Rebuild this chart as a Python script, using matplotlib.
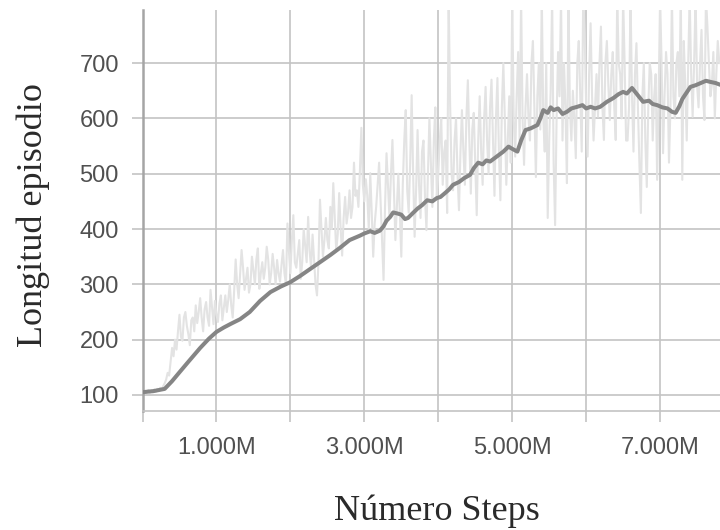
import matplotlib
matplotlib.use("Agg")
import matplotlib.pyplot as plt

# ---- data (x in millions of steps) ----
smooth_x = [0.00, 0.15, 0.30, 0.40, 0.50, 0.62, 0.78, 0.90, 1.00, 1.10, 1.20, 1.32,
            1.45, 1.59, 1.73, 1.87, 2.00, 2.13, 2.27, 2.40, 2.54, 2.67, 2.80,
            2.94, 3.00, 3.08, 3.14, 3.21, 3.26, 3.30, 3.35, 3.39, 3.45, 3.50, 3.55,
            3.59, 3.65, 3.72, 3.78, 3.85, 3.92, 3.98, 4.03, 4.10, 4.15, 4.20, 4.28,
            4.35, 4.43, 4.48, 4.54, 4.60, 4.65, 4.70, 4.78, 4.88, 4.95, 5.00, 5.07,
            5.12, 5.18, 5.25, 5.34, 5.38, 5.42, 5.48, 5.52, 5.56, 5.62, 5.68, 5.74,
            5.80, 5.88, 5.95, 6.00, 6.06, 6.12, 6.19, 6.28, 6.37, 6.44, 6.50, 6.55,
            6.62, 6.68, 6.77, 6.85, 6.90, 6.96, 7.03, 7.10, 7.16, 7.21, 7.26, 7.30,
            7.35, 7.41, 7.48, 7.55, 7.62, 7.68, 7.75, 7.81]
smooth_y = [105, 107, 111, 125, 141, 160, 185, 202, 214, 222, 229, 237,
            250, 270, 286, 296, 304, 315, 328, 340, 353, 366, 380,
            388, 392, 396, 393, 397, 405, 415, 422, 430, 428, 426, 418,
            420, 428, 437, 443, 452, 450, 456, 458, 466, 472, 480, 485,
            492, 498, 510, 520, 517, 524, 522, 530, 540, 549, 545, 540,
            560, 579, 582, 588, 600, 615, 610, 620, 615, 618, 608, 612,
            618, 621, 624, 618, 621, 618, 621, 630, 637, 644, 648, 645,
            655, 645, 630, 632, 626, 624, 620, 618, 612, 610, 622, 635,
            645, 657, 660, 664, 668, 666, 664, 661]

raw_step = 0.02
raw_y = [104, 107, 103, 106, 109, 104, 108, 105, 110, 106, 111, 108, 113, 110, 116, 121,
         128, 140, 135, 160, 185, 170, 200, 182, 215, 245, 205, 198, 240, 250, 225,
         210, 190, 235, 240, 215, 262, 230, 250, 275, 240, 215, 255, 268, 240, 225, 290, 260, 228, 270,
         245, 232, 265, 280, 235, 258, 280, 250, 272, 300, 262, 240, 290, 345, 300, 275, 320, 362, 330, 290,
         310, 330, 285, 300, 350, 325, 300, 345, 365, 292, 320, 340, 310, 330, 368, 345, 300, 320, 355, 330,
         300, 344, 320, 305, 335, 362, 320, 300, 410, 360, 320, 380, 425, 340, 330, 355, 380, 310, 340, 400,
         370, 340, 422, 360, 330, 390, 345, 300, 280, 340, 453, 400, 350, 380, 420, 380, 365, 440, 400, 483,
         420, 360, 390, 465, 400, 352, 420, 458, 410, 430, 470, 420, 440, 520, 460, 470, 440, 505, 583, 480,
         450, 490, 460, 400, 501, 430, 350, 410, 440, 480, 520, 450, 380, 308, 440, 537, 480, 420, 500, 561,
         470, 380, 440, 500, 430, 350, 480, 560, 615, 470, 430, 520, 642, 500, 386, 470, 579, 480, 420, 540,
         560, 460, 398, 500, 600, 520, 440, 560, 620, 460, 500, 560, 600, 480, 540, 560, 429, 820, 627, 500,
         470, 560, 600, 500, 434, 540, 615, 540, 480, 600, 669, 560, 464, 580, 610, 520, 425, 560, 640, 540,
         480, 600, 657, 560, 500, 620, 670, 560, 460, 600, 673, 540, 452, 620, 700, 600, 480, 560, 640, 520,
         820, 600, 531, 640, 720, 560, 820, 600, 516, 620, 680, 600, 560, 700, 740, 620, 494, 640, 700, 580,
         820, 600, 540, 700, 420, 560, 650, 820, 520, 407, 600, 720, 640, 820, 560, 700, 620, 483, 820, 620,
         560, 650, 600, 528, 700, 740, 640, 540, 820, 754, 620, 531, 680, 772, 640, 560, 620, 680, 603, 700,
         766, 620, 561, 700, 740, 660, 597, 680, 720, 620, 561, 820, 700, 680, 600, 820, 700, 560, 560, 620,
         820, 640, 540, 680, 736, 620, 519, 429, 640, 700, 560, 476, 620, 700, 680, 560, 640, 680, 489, 640,
         820, 700, 537, 640, 720, 680, 520, 620, 820, 640, 600, 700, 720, 640, 820, 489, 740, 660, 560, 700,
         820, 680, 603, 700, 820, 660, 620, 700, 760, 640, 597, 820, 766, 700, 640, 660, 720, 600, 680, 740,
         700]
raw_x = [i * raw_step for i in range(len(raw_y))]

xticks = [0, 1, 2, 3, 4, 5, 6, 7]
xtick_labels = ["", "1.000M", "", "3.000M", "", "5.000M", "", "7.000M"]
yticks = [100, 200, 300, 400, 500, 600, 700]
xlabel = "Número Steps"
ylabel = "Longitud episodio"

# ---- figure ----
W, H = 720, 530
fig = plt.figure(figsize=(7.2, 5.3), dpi=100)
ax = fig.add_axes([142.5 / W, 1 - 411 / H, (720 - 142.5) / W, (411 - 10) / H])

grid_c = "#c4c4c4"
ax.plot(raw_x, raw_y, color="#e3e3e3", lw=1.5, zorder=2)
ax.plot(smooth_x, smooth_y, color="#858585", lw=2.9, zorder=3)

ax.set_xlim(0, 7.81)
ax.set_ylim(71, 796)
ax.set_xticks(xticks)
ax.set_xticklabels(xtick_labels)
ax.set_yticks(yticks)
ax.grid(True, color=grid_c, lw=1.2, zorder=1)
ax.set_axisbelow(True)

for s in ["top", "right"]:
    ax.spines[s].set_visible(False)
ax.spines["left"].set_color("#a5a5a5")
ax.spines["left"].set_linewidth(1.8)
ax.spines["bottom"].set_color(grid_c)
ax.spines["bottom"].set_linewidth(1.2)

ax.tick_params(axis="both", color=grid_c, width=1.2, length=8,
               labelcolor="#505050", labelsize=17)
ax.tick_params(axis="x", pad=11)
ax.tick_params(axis="y", pad=9)
for lab in ax.get_xticklabels() + ax.get_yticklabels():
    lab.set_fontfamily(["Liberation Sans", "DejaVu Sans"])

fig.text(437 / W, 1 - 520 / H, xlabel, ha="center", va="baseline",
         fontsize=26, color="#2a2a2a", family=["Liberation Serif", "DejaVu Serif"])
fig.text(33 / W, 1 - 215 / H, ylabel, ha="center", va="center", rotation=90,
         fontsize=26, color="#2a2a2a", family=["Liberation Serif", "DejaVu Serif"])

fig.savefig("out.png", dpi=100)
